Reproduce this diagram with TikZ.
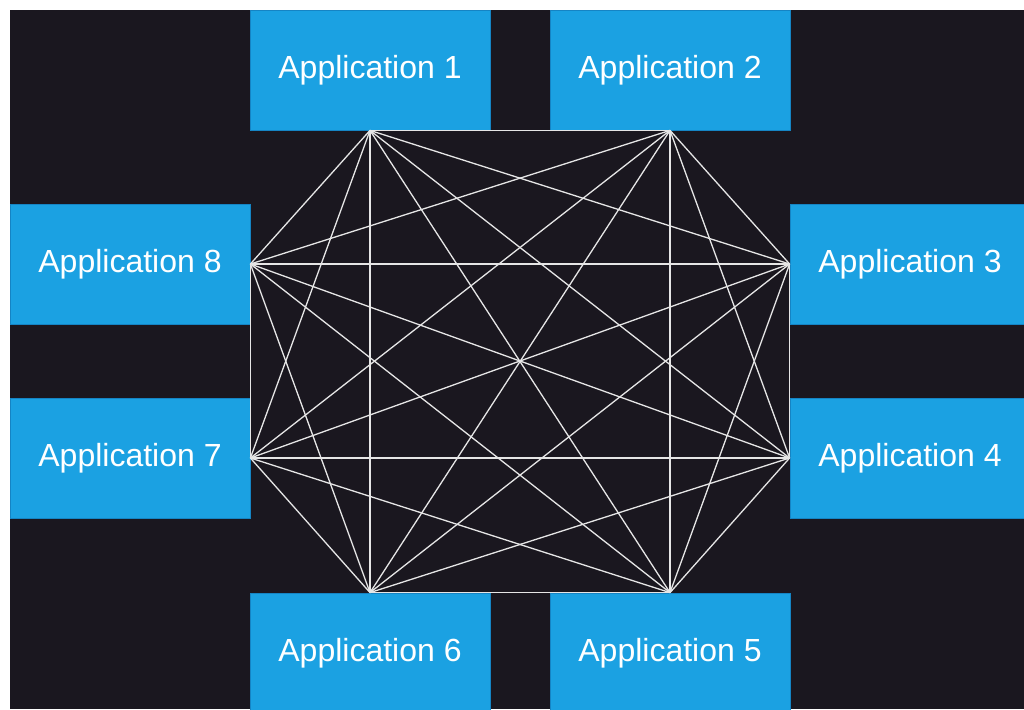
\documentclass[tikz,border=0pt]{standalone}
\usepackage{fontspec}
\setmainfont{Liberation Sans}
\definecolor{bgdark}{HTML}{1A171F}
\definecolor{appblue}{HTML}{1BA1E2}
\definecolor{appedge}{HTML}{1584C4}
\definecolor{wire}{HTML}{E6E6E6}
\tikzset{
  app/.style={draw=appedge, fill=appblue, line width=0.8pt, inner sep=0pt,
    minimum width=240pt, minimum height=120pt, text=white,
    font=\fontsize{32}{38}\selectfont},
  wire/.style={draw=wire, line width=1.3pt},
}
\begin{document}
\begin{tikzpicture}[x=1pt, y=-1pt]
  \useasboundingbox (0,0) rectangle (1024,709);
  \fill[white] (0,0) rectangle (1024,709);
  \fill[bgdark] (10,10) rectangle (1024,709);
  \begin{scope}
  \clip (10,10) rectangle (1024,709);
  % applications around the mesh
  \node[app] (app1) at (370,70)  {Application 1};
  \node[app] (app2) at (670,70)  {Application 2};
  \node[app] (app3) at (910,264) {Application 3};
  \node[app] (app4) at (910,458) {Application 4};
  \node[app] (app5) at (670,653) {Application 5};
  \node[app] (app6) at (370,653) {Application 6};
  \node[app] (app7) at (130,458) {Application 7};
  \node[app] (app8) at (130,264) {Application 8};
  \end{scope}
  % every application talks to every other one
  \foreach \n/\a [count=\i] in {app1/south, app2/south, app3/west, app4/west,
      app5/north, app6/north, app7/east, app8/east}
    \coordinate (p\i) at (\n.\a);
  \foreach \i in {1,...,7}{
    \pgfmathtruncatemacro\k{\i+1}
    \foreach \j in {\k,...,8}
      \draw[wire] (p\i) -- (p\j);
  }
\end{tikzpicture}
\end{document}
